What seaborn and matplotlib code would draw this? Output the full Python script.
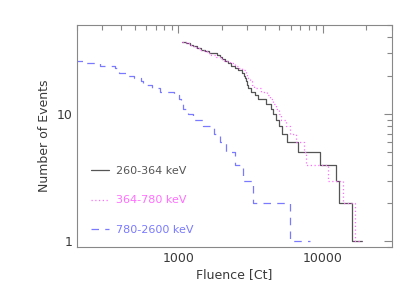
import numpy as np
import pandas as pd
import seaborn as sns
import matplotlib
matplotlib.use("Agg")
import matplotlib.pyplot as plt
import matplotlib.ticker as mticker

# cumulative event counts (steps): fluence where each level starts / ends
fluence_low = [1071, 1141, 1203, 1269, 1352, 1448, 1527, 1636, 1858, 1938, 2022,
               2109, 2200, 2333, 2473, 2607, 2749, 2868, 2914, 2944, 2976, 3039,
               3204, 3396, 3581, 4024, 4356, 4520, 4766, 4972, 5243, 5646, 6724,
               9585, 12360, 12823, 15849, 18675]
events_low = [37, 36, 35, 34, 33, 32, 31, 30, 29, 28, 27, 26, 25, 24, 23, 22, 21,
              20, 19, 18, 17, 16, 15, 14, 13, 12, 11, 10, 9, 8, 7, 6, 5, 4, 3, 2,
              1, 1]

fluence_mid = [1071, 1129, 1191, 1256, 1338, 1411, 1503, 1585, 1698, 1819, 1938,
               2065, 2272, 2459, 2634, 2779, 2929, 2991, 3055, 3121, 3221, 3325,
               3756, 4111, 4333, 4520, 4766, 4972, 5160, 5527, 5953, 6548, 7357,
               7674, 10827, 13740, 16537, 18675]
events_mid = [37, 36, 35, 34, 33, 32, 31, 30, 29, 28, 27, 26, 25, 24, 23, 22, 21,
              20, 19, 18, 17, 16, 15, 14, 13, 12, 11, 10, 9, 8, 7, 6, 5, 4, 3, 2,
              1, 1]

fluence_high = [195, 231, 288, 366, 376, 392, 452, 497, 553, 574, 655, 755, 938,
                1016, 1054, 1083, 1172, 1269, 1487, 1772, 1938, 2154, 2459, 2807,
                3291, 5888, 8090]
events_high = [26, 25, 24, 23, 22, 21, 20, 19, 18, 17, 16, 15, 14, 13, 12, 11, 10,
               9, 8, 7, 6, 5, 4, 3, 2, 1, 1]

labels = ["260-364 keV", "364-780 keV", "780-2600 keV"]
colors = ["#555555", "#ff6eff", "#7a7aff"]
styles = ["-", (0, (1, 2)), (0, (6, 5))]

sns.set_style("white")
plt.rcParams['font.family'] = ['DejaVu Sans']
txt = "#3a3a3a"

fig = plt.figure(figsize=(4.15, 2.97), dpi=100)
ax = fig.add_axes([0.1855, 0.168, 0.759, 0.748])

series = [(fluence_low, events_low), (fluence_mid, events_mid),
          (fluence_high, events_high)]
for (fx, ny), lab, col, ls in zip(series, labels, colors, styles):
    df = pd.DataFrame({'fluence': fx, 'events': ny})
    sns.lineplot(data=df, x='fluence', y='events', ax=ax, estimator=None,
                 sort=False, drawstyle='steps-post', color=col, linestyle=ls,
                 linewidth=0.9, label=lab)

ax.set_xscale('log')
ax.set_yscale('log')
ax.set_xlim(200, 30000)
ax.set_ylim(0.9, 50)

fmt = mticker.FuncFormatter(lambda v, _: f"{v:g}")
ax.xaxis.set_major_formatter(fmt)
ax.yaxis.set_major_formatter(fmt)
ax.xaxis.set_minor_formatter(mticker.NullFormatter())
ax.yaxis.set_minor_formatter(mticker.NullFormatter())

ax.tick_params(which='both', direction='in', top=True, right=True,
               color='#888888', labelcolor=txt, labelsize=9, width=0.8)
ax.tick_params(which='major', length=6)
ax.tick_params(which='minor', length=3.5)
for s in ax.spines.values():
    s.set_color('#888888')
    s.set_linewidth(0.8)

ax.set_xlabel('Fluence [Ct]', fontsize=9, color=txt, labelpad=2)
ax.set_ylabel('Number of Events', fontsize=9, color=txt, labelpad=4)

ax.legend(loc='center left', bbox_to_anchor=(0.045, 0.21), frameon=False,
          fontsize=8, labelcolor='linecolor', handlelength=1.6,
          handletextpad=0.6, labelspacing=1.75, borderpad=0, borderaxespad=0)

fig.savefig("out.png", dpi=100)
